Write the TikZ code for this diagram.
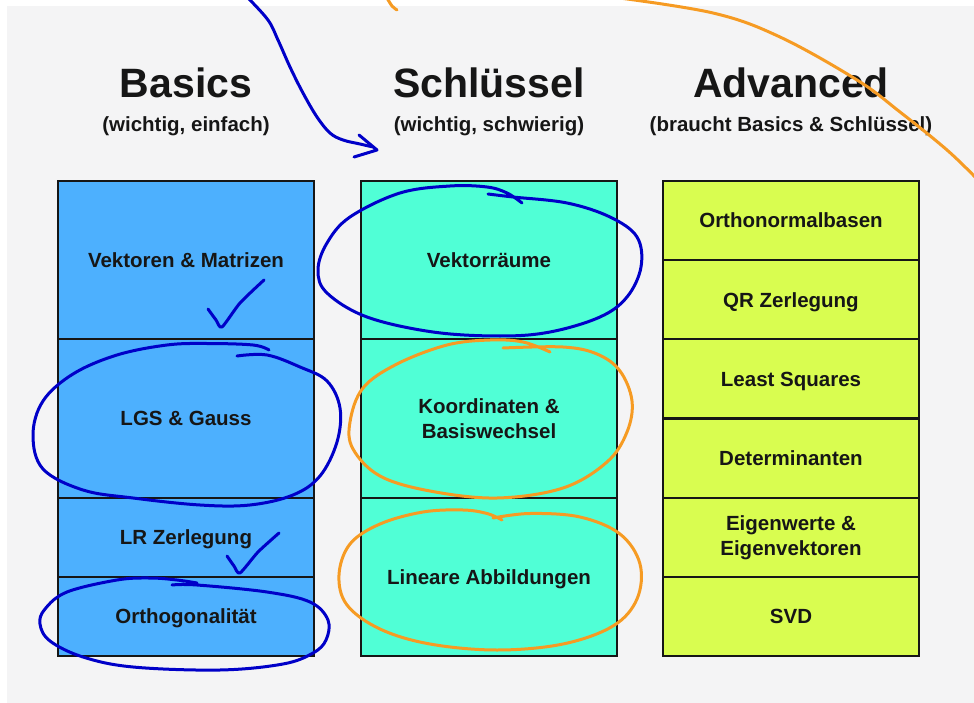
\documentclass[tikz,border=0pt]{standalone}
\usepackage{fontspec}
\setmainfont{Liberation Sans}
\definecolor{bg}{RGB}{244,244,245}
\definecolor{cblue}{RGB}{77,176,254}
\definecolor{cgreen}{RGB}{80,255,214}
\definecolor{cyellow}{RGB}{217,253,80}
\definecolor{penblue}{RGB}{0,0,200}
\definecolor{penorange}{RGB}{246,155,35}
\definecolor{ink}{RGB}{22,22,22}
\begin{document}
\begin{tikzpicture}[x=1pt,y=-1pt,
  cell/.style={minimum width=256pt, inner sep=0pt,
    align=center, text=ink, font=\fontsize{20.5}{25}\selectfont\bfseries},
  one/.style={text height=14.7pt, text depth=0pt},
  small/.style={cell, minimum height=79.17pt},
  big/.style={cell, minimum height=158.33pt},
  cellline/.style={draw=ink, line width=1.6pt},
  title/.style={anchor=base, text=ink, font=\fontsize{41}{45}\selectfont\bfseries},
  subtitle/.style={anchor=base, text=ink, font=\fontsize{20.5}{24}\selectfont\bfseries},
  pen/.style={line width=3pt, line cap=round, line join=round},
  bpen/.style={pen, draw=penblue},
  open/.style={pen, draw=penorange}]
\useasboundingbox (0,0) rectangle (974,703);
\fill[white] (0,0) rectangle (974,703);
\fill[bg] (7,6) rectangle (974,703);

% titles
\node[title] (tb) at (186,98) {Basics};
\node[title] (ts) at (489,98) {Schlüssel};
\node[title] (ta) at (791,98) {Advanced};
\node[subtitle] (sb) at (186,132) {(wichtig, einfach)};
\node[subtitle] (ss) at (489,132) {(wichtig, schwierig)};
\node[subtitle] (sa) at (791,132) {(braucht Basics \& Schlüssel)};

% Basics column
\node[big, one, fill=cblue] (b1) at (186,260.17) {Vektoren \& Matrizen};
\node[big, one, fill=cblue] (b2) at (186,418.5) {LGS \& Gauss};
\node[small, one, fill=cblue] (b3) at (186,537.25) {LR Zerlegung};
\node[small, one, fill=cblue] (b4) at (186,616.42) {Orthogonalität};

% Schluessel column
\node[big, one, fill=cgreen] (s1) at (489,260.17) {Vektorräume};
\node[big, fill=cgreen] (s2) at (489,418.5) {Koordinaten \&\\Basiswechsel};
\node[big, one, fill=cgreen] (s3) at (489,576.83) {Lineare Abbildungen};

% Advanced column
\node[small, one, fill=cyellow] (a1) at (791,220.58) {Orthonormalbasen};
\node[small, one, fill=cyellow] (a2) at (791,299.75) {QR Zerlegung};
\node[small, one, fill=cyellow] (a3) at (791,378.92) {Least Squares};
\node[small, one, fill=cyellow] (a4) at (791,458.08) {Determinanten};
\node[small, fill=cyellow] (a5) at (791,537.25) {Eigenwerte \&\\Eigenvektoren};
\node[small, one, fill=cyellow] (a6) at (791,616.42) {SVD};

% cell outlines drawn on top of all fills
\foreach \n in {b1,b2,b3,b4,s1,s2,s3,a1,a2,a3,a4,a5,a6}
  \draw[cellline] (\n.north west) rectangle (\n.south east);

% hand-drawn annotations
\begin{scope}
\clip (0,0) rectangle (974,703);
% blue arrow
\draw[bpen] plot[smooth, tension=0.6] coordinates {(248,-2) (268,20) (278,40) (290,67) (303,93) (317,117) (330,133) (343,140) (360,144) (373,147)};
\draw[bpen] (359,135) -- (377,150) -- (354,157);
% blue checks
\draw[bpen] plot[smooth, tension=0.4] coordinates {(208,309) (216,320) (222,327) (240,303) (264,280)};
\draw[bpen] plot[smooth, tension=0.4] coordinates {(227,556) (234,566) (240,573) (258,552) (279,533)};
% blue ellipse LGS
\draw[bpen] plot[smooth, tension=0.6] coordinates {(237,356) (267,355) (300,367) (327,381) (340,408) (337,442) (320,476) (293,495) (250,505) (200,505) (133,498) (83,490) (43,469) (33,435) (43,401) (73,374) (117,355) (167,345) (207,343.5) (253,345) (269,350)};
% blue ellipse Orthogonalitaet
\draw[bpen] plot[smooth, tension=0.6] coordinates {(172,585) (197,585) (267,592) (310,602) (328,620) (326,640) (313,653) (283,664) (220,670) (133,667) (83,657) (50,641) (40,624) (45,609) (67,592) (117,580) (150,578) (177,580) (197,583)};
% blue ellipse Vektorraeume
\draw[bpen] plot[smooth, tension=0.6] coordinates {(488,194) (513,197) (567,203) (610,217) (637,237) (641,267) (627,297) (600,317) (550,332) (500,336) (433,332) (367,317) (327,293) (318,270) (327,243) (350,217) (400,193) (450,186) (487,187) (507,193) (522,203)};
% orange ellipse Koordinaten
\draw[open] plot[smooth, tension=0.6] coordinates {(503,348) (563,347) (597,354) (620,371) (632,401) (627,432) (607,462) (563,488) (497,498) (430,491) (380,476) (353,449) (350,422) (363,388) (397,364) (447,345) (490,340) (523,342) (550,352)};
% orange ellipse Lineare Abbildungen
\draw[open] plot[smooth, tension=0.6] coordinates {(493,518) (530,513.5) (580,517) (620,534) (640,564) (637,599) (613,626) (563,644) (497,650) (430,644) (380,629) (347,605) (339,575) (350,544) (380,524) (423,512) (463,510) (487,513.5) (502,520)};
% orange strokes at top
\draw[open] plot[smooth] coordinates {(387,-2) (392,6) (397,10)};
\draw[open] plot[smooth, tension=0.6] coordinates {(612,-3) (713,13) (780,37) (857,80) (900,112) (947,150) (978,180)};
\end{scope}
\end{tikzpicture}
\end{document}
